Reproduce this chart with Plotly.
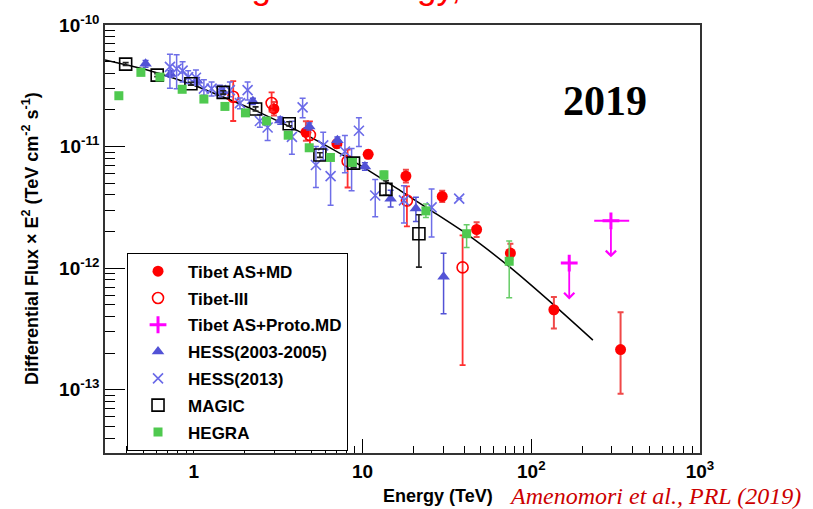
import math
import plotly.graph_objects as go

# ---------------- data ----------------
# Tibet AS+MD
tibet_md_E = [2.980, 4.612, 7.042, 10.79, 18.06, 29.64, 47.40, 75.17, 136.1, 338.2]
tibet_md_F = [2.04e-11, 1.311e-11, 1.057e-11, 8.63e-12, 5.72e-12, 3.89e-12, 2.08e-12, 1.33e-12, 4.55e-13, 2.14e-13]
tibet_md_hi = [2.33e-11, 1.614e-11, 1.138e-11, 9.29e-12, 6.46e-12, 4.34e-12, 2.39e-12, 1.585e-12, 5.79e-13, 4.34e-13]
tibet_md_lo = [1.80e-11, 1.117e-11, 9.8e-12, 8.02e-12, 5.06e-12, 3.50e-12, 1.803e-12, 1.18e-12, 3.19e-13, 9.29e-14]

# Tibet-III
tibet3_E = [1.710, 2.888, 4.872, 8.150, 18.31, 39.15]
tibet3_F = [2.57e-11, 2.28e-11, 1.247e-11, 7.59e-12, 3.60e-12, 1.015e-12]
tibet3_hi = [3.45e-11, 2.79e-11, 1.614e-11, 9.46e-12, 4.70e-12, 1.861e-12]
tibet3_lo = [1.623e-11, 1.941e-11, 9.64e-12, 4.61e-12, 2.21e-12, 1.593e-13]

# Tibet AS+Proto.MD (upper limits)
proto_E = [167.8, 296.5]
proto_F = [1.102e-12, 2.45e-12]
proto_E_lo = [167.8, 236.0]
proto_E_hi = [167.8, 380.4]

# HESS (2003-2005)
hess05_E = [0.517, 0.726, 1.045, 1.475, 2.237, 3.249, 4.826, 7.089, 10.32, 14.66, 20.70, 30.2]
hess05_F = [4.79e-11, 3.96e-11, 3.48e-11, 2.85e-11, 2.36e-11, 1.638e-11, 1.464e-11, 1.127e-11, 6.86e-12, 3.72e-12, 3.09e-12, 8.52e-13]
hess05_hi = [5.1e-11, 4.2e-11, 3.7e-11, 3.03e-11, 2.5e-11, 1.75e-11, 1.56e-11, 1.2e-11, 7.35e-12, 4.37e-12, 3.84e-12, 1.326e-12]
hess05_lo = [4.5e-11, 3.72e-11, 3.27e-11, 2.68e-11, 2.22e-11, 1.53e-11, 1.37e-11, 1.05e-11, 6.4e-12, 3.19e-12, 2.42e-12, 4.21e-13]

# HESS (2013)
hess13_E = [0.721, 0.790, 0.857, 0.925, 1.028, 1.146, 1.273, 1.426, 1.634, 1.874, 2.081, 2.461, 2.735,
            3.810, 4.410, 5.287, 5.841, 6.461, 7.855, 8.606, 9.508, 11.88, 17.58, 25.64, 37.37]
hess13_F = [4.53e-11, 4.37e-11, 4.21e-11, 3.72e-11, 3.68e-11, 3.00e-11, 3.00e-11, 2.87e-11, 2.91e-11, 2.28e-11,
            2.91e-11, 1.623e-11, 1.437e-11, 1.202e-11, 2.10e-11, 7.05e-12, 1.024e-11, 5.72e-12, 9.12e-12, 7.31e-12,
            1.350e-11, 3.96e-12, 3.61e-12, 3.16e-12, 3.73e-12]
hess13_hi = [5.75e-11, 5.70e-11, 4.99e-11, 4.21e-11, 4.26e-11, 3.54e-11, 3.39e-11, 3.19e-11, 3.39e-11, 2.51e-11,
             3.39e-11, 1.837e-11, 1.675e-11, 1.614e-11, 2.50e-11, 1.0e-11, 1.311e-11, 8.47e-12, 1.231e-11, 9.64e-12,
             1.728e-11, 5.35e-12, 4.76e-12, 4.47e-12, 3.73e-12]
hess13_lo = [3.02e-11, 2.99e-11, 3.39e-11, 3.31e-11, 3.19e-11, 2.65e-11, 2.61e-11, 2.56e-11, 2.57e-11, 2.05e-11,
             2.42e-11, 1.445e-11, 1.123e-11, 8.63e-12, 1.728e-11, 4.61e-12, 7.77e-12, 3.29e-12, 6.08e-12, 4.34e-12,
             1.0e-11, 2.65e-12, 2.35e-12, 1.803e-12, 3.73e-12]

# MAGIC
magic_E = [0.394, 0.606, 0.960, 1.492, 2.321, 3.672, 5.583, 8.834, 13.75, 21.57]
magic_F = [4.77e-11, 3.87e-11, 3.29e-11, 2.79e-11, 2.04e-11, 1.54e-11, 8.52e-12, 7.31e-12, 4.45e-12, 1.92e-12]
magic_hi = [4.9e-11, 3.98e-11, 3.38e-11, 2.88e-11, 2.12e-11, 1.6e-11, 8.9e-12, 8.0e-12, 5.25e-12, 2.75e-12]
magic_lo = [4.65e-11, 3.76e-11, 3.2e-11, 2.7e-11, 1.96e-11, 1.48e-11, 8.15e-12, 6.7e-12, 3.98e-12, 1.02e-12]

# HEGRA
hegra_E = [0.359, 0.485, 0.629, 0.852, 1.146, 1.527, 2.020, 2.697, 3.622, 4.826, 6.445, 8.70, 13.38, 23.73, 41.36, 73.96]
hegra_F = [2.62e-11, 4.08e-11, 3.73e-11, 2.96e-11, 2.46e-11, 2.14e-11, 1.894e-11, 1.623e-11, 1.241e-11, 9.78e-12,
           8.14e-12, 7.41e-12, 5.86e-12, 2.96e-12, 1.92e-12, 1.14e-12]
hegra_hi = [2.7e-11, 4.3e-11, 3.9e-11, 3.05e-11, 2.55e-11, 2.2e-11, 1.95e-11, 1.68e-11, 1.29e-11, 1.02e-11,
            8.5e-12, 7.7e-12, 6.27e-12, 3.37e-12, 2.28e-12, 1.675e-12]
hegra_lo = [2.55e-11, 3.85e-11, 3.55e-11, 2.87e-11, 2.38e-11, 2.08e-11, 1.84e-11, 1.57e-11, 1.19e-11, 9.4e-12,
            7.8e-12, 7.1e-12, 5.37e-12, 2.61e-12, 1.48e-12, 5.72e-13]

# fitted curve
fit_E = [0.2969, 0.5484, 1.0, 2.461, 4.872, 9.638, 16.64, 25.06, 41.52, 74.66, 134.3, 231.8]
fit_F = [5.152e-11, 4.207e-11, 3.192e-11, 1.905e-11, 1.202e-11, 7.047e-12, 4.365e-12, 3.020e-12,
         1.905e-12, 1.019e-12, 5.058e-13, 2.559e-13]

x_tickvals = [1, 10, 100, 1000]
x_ticktext = ["1", "10", "10<sup>2</sup>", "10<sup>3</sup>"]
y_tickvals = [1e-13, 1e-12, 1e-11, 1e-10]
y_ticktext = ["10<sup>-13</sup>", "10<sup>-12</sup>", "10<sup>-11</sup>", "10<sup>-10</sup>"]

# ---------------- figure ----------------
SANS = "Liberation Sans, Arial, Helvetica, sans-serif"
SERIF = "Liberation Serif, Times New Roman, serif"


def errs(v, hi, lo):
    return [h - a for a, h in zip(v, hi)], [a - l for a, l in zip(v, lo)]


fig = go.Figure()

fig.add_trace(go.Scatter(x=fit_E, y=fit_F, mode="lines", line=dict(color="black", width=1.5, shape="spline", smoothing=0.6),
                         showlegend=False, hoverinfo="skip"))

up, dn = errs(tibet_md_F, tibet_md_hi, tibet_md_lo)
fig.add_trace(go.Scatter(x=tibet_md_E, y=tibet_md_F, mode="markers", name="Tibet AS+MD", legendgroup="a",
                         marker=dict(symbol="circle", size=11, color="#ff0000"),
                         error_y=dict(type="data", array=up, arrayminus=dn, color="#f04848", thickness=2, width=3)))

up, dn = errs(tibet3_F, tibet3_hi, tibet3_lo)
fig.add_trace(go.Scatter(x=tibet3_E, y=tibet3_F, mode="markers", name="Tibet-III", legendgroup="b",
                         marker=dict(symbol="circle-open", size=11, color="#ff0000", line=dict(width=1.6)),
                         error_y=dict(type="data", array=up, arrayminus=dn, color="#ff3030", thickness=1.8, width=3)))

fig.add_trace(go.Scatter(x=proto_E, y=proto_F, mode="markers", name="Tibet AS+Proto.MD", legendgroup="c",
                         marker=dict(symbol="cross-thin", size=12, color="#ff00ff", line=dict(width=3, color="#ff00ff")),
                         error_x=dict(type="data", array=[h - e for e, h in zip(proto_E, proto_E_hi)],
                                      arrayminus=[e - l for e, l in zip(proto_E, proto_E_lo)],
                                      color="#ff00ff", thickness=2, width=0)))

up, dn = errs(hess05_F, hess05_hi, hess05_lo)
fig.add_trace(go.Scatter(x=hess05_E, y=hess05_F, mode="markers", name="HESS(2003-2005)", legendgroup="d",
                         marker=dict(symbol="triangle-up", size=11, color="#5252d6"),
                         error_y=dict(type="data", array=up, arrayminus=dn, color="#5252d6", thickness=1.5, width=3)))

up, dn = errs(hess13_F, hess13_hi, hess13_lo)
fig.add_trace(go.Scatter(x=hess13_E, y=hess13_F, mode="markers", name="HESS(2013)", legendgroup="e",
                         marker=dict(symbol="x-thin", size=10, color="#6a6ae8", line=dict(width=1.6, color="#6a6ae8")),
                         error_y=dict(type="data", array=up, arrayminus=dn, color="#6e6ee8", thickness=1.5, width=3)))

up, dn = errs(magic_F, magic_hi, magic_lo)
fig.add_trace(go.Scatter(x=magic_E, y=magic_F, mode="markers", name="MAGIC", legendgroup="f",
                         marker=dict(symbol="square-open", size=12, color="black", line=dict(width=1.6)),
                         error_y=dict(type="data", array=up, arrayminus=dn, color="#222222", thickness=1.6, width=3)))

up, dn = errs(hegra_F, hegra_hi, hegra_lo)
fig.add_trace(go.Scatter(x=hegra_E, y=hegra_F, mode="markers", name="HEGRA", legendgroup="g",
                         marker=dict(symbol="square", size=9, color="#4fc94f"),
                         error_y=dict(type="data", array=up, arrayminus=dn, color="#66cc66", thickness=1.5, width=3)))

# upper-limit arrows for Tibet AS+Proto.MD
ARROW_DEC = 0.3
for e, f in zip(proto_E, proto_F):
    fig.add_annotation(x=math.log10(e), y=math.log10(f) - ARROW_DEC, ax=math.log10(e), ay=math.log10(f),
                       xref="x", yref="y", axref="x", ayref="y", text="", showarrow=True,
                       arrowhead=4, arrowsize=1.1, arrowwidth=1.8, arrowcolor="#ff00ff", standoff=0)

x_minor = [m * 10 ** d for d in range(-1, 3) for m in range(2, 10)]
y_minor = [m * 10.0 ** d for d in range(-14, -10) for m in range(2, 10)]

fig.update_xaxes(type="log", range=[-0.527, 3], tickvals=x_tickvals, ticktext=x_ticktext,
                 ticks="inside", ticklen=14, tickwidth=1.2, tickcolor="black", ticklabeloverflow="allow",
                 minor=dict(tickvals=x_minor, ticks="inside", ticklen=7, tickwidth=1.2, tickcolor="black"),
                 showgrid=False, zeroline=False, showline=True, linecolor="#333333", linewidth=1.5, mirror=True,
                 tickfont=dict(family=SANS, size=19, color="black", weight="bold"))
fig.update_yaxes(type="log", range=[-13.52, -10], tickvals=y_tickvals, ticktext=y_ticktext,
                 ticks="inside", ticklen=20, tickwidth=1.2, tickcolor="black", ticklabeloverflow="allow",
                 minor=dict(tickvals=y_minor, ticks="inside", ticklen=10, tickwidth=1.2, tickcolor="black"),
                 showgrid=False, zeroline=False, showline=True, linecolor="#333333", linewidth=1.5, mirror=True,
                 tickfont=dict(family=SANS, size=19, color="black", weight="bold"))

fig.update_layout(
    width=813, height=509,
    margin=dict(l=105, r=113, t=13, b=56),
    paper_bgcolor="white", plot_bgcolor="white",
    showlegend=True,
    legend=dict(x=0.037, y=0.4682, xanchor="left", yanchor="top", bgcolor="white",
                bordercolor="black", borderwidth=1, itemwidth=50, tracegroupgap=1.7,
                font=dict(family=SANS, size=17, color="black", weight="bold")),
    annotations=list(fig.layout.annotations) + [
        dict(text="Energy (TeV)", x=0.5597, y=-0.1, xref="paper", yref="paper", showarrow=False,
             xanchor="center", yanchor="middle", font=dict(family=SANS, size=18, color="black", weight="bold")),
        dict(text="Differential Flux × E<sup>2</sup> (TeV cm<sup>-2</sup> s<sup>-1</sup>)", x=-0.126, y=0.5,
             xref="paper", yref="paper", showarrow=False, textangle=-90, xanchor="center", yanchor="middle",
             font=dict(family=SANS, size=18, color="black", weight="bold")),
        dict(text="2019", x=0.8403, y=0.8227, xref="paper", yref="paper", showarrow=False,
             xanchor="center", yanchor="middle", font=dict(family=SERIF, size=42, color="black", weight="bold")),
        dict(text="<i>Amenomori et al., PRL (2019)</i>", x=0.675, y=-0.1, xref="paper", yref="paper",
             showarrow=False, xanchor="left", yanchor="middle", font=dict(family=SERIF, size=24, color="#cc0000")),
        dict(text="Crab: highest energy,", x=0.0378, y=1.0, xref="paper", yref="paper", showarrow=False,
             xanchor="left", yanchor="bottom", yshift=17, font=dict(family=SANS, size=35, color="#ff0000")),
    ],
)

fig.write_html("out.html")
